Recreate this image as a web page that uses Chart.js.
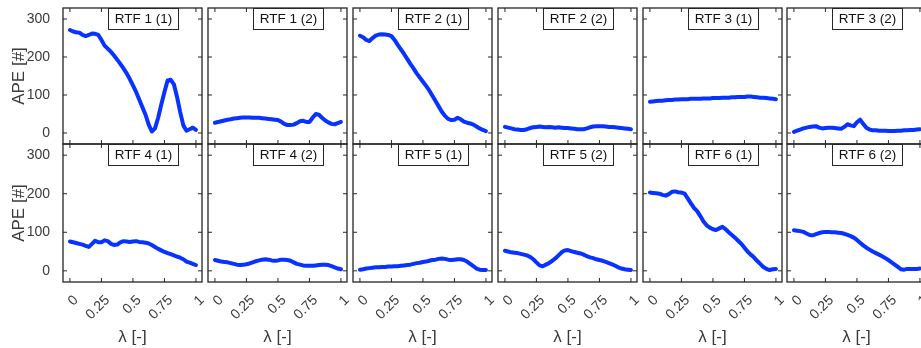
<!DOCTYPE html>
<html>
<head>
<meta charset="utf-8">
<script src="https://cdn.jsdelivr.net/npm/chart.js@4.4.1/dist/chart.umd.min.js"></script>
<style>
  html, body { margin: 0; padding: 0; background: #fff; }
  #wrap { position: relative; width: 921px; height: 348px; overflow: hidden; }
  #wrap canvas { position: absolute; }
</style>
</head>
<body>
<div id="wrap"></div>
<script>
// lambda grid shared by every panel
const lambda = [0, 0.025, 0.05, 0.075, 0.1, 0.125, 0.15, 0.175, 0.2, 0.225,
  0.25, 0.275, 0.3, 0.325, 0.35, 0.375, 0.4, 0.425, 0.45, 0.475,
  0.5, 0.525, 0.55, 0.575, 0.6, 0.625, 0.65, 0.675, 0.7, 0.725,
  0.75, 0.775, 0.8, 0.825, 0.85, 0.875, 0.9, 0.925, 0.95, 0.975, 1];

const panelTitles = ['RTF 1 (1)', 'RTF 1 (2)', 'RTF 2 (1)', 'RTF 2 (2)', 'RTF 3 (1)', 'RTF 3 (2)',
  'RTF 4 (1)', 'RTF 4 (2)', 'RTF 5 (1)', 'RTF 5 (2)', 'RTF 6 (1)', 'RTF 6 (2)'];

const rtf1a = [271, 267, 265, 264, 258, 255, 258, 262, 261, 258, 245, 230, 222, 214, 204, 193, 182, 170, 157, 142,
  125, 108, 88, 68, 48, 22, 4, 12, 40, 75, 108, 138, 140, 128, 95, 55, 20, 6, 10, 14, 8];
const rtf1b = [27, 29, 31, 33, 35, 36, 38, 39, 40, 41, 41, 41, 40, 40, 40, 39, 38, 37, 36, 35,
  34, 30, 24, 21, 21, 22, 26, 31, 32, 29, 29, 40, 50, 48, 40, 33, 28, 24, 23, 26, 29];
const rtf2a = [256, 252, 245, 242, 250, 256, 259, 260, 259, 258, 255, 245, 232, 220, 208, 195, 182, 170, 157, 146,
  135, 124, 112, 98, 84, 70, 56, 45, 37, 34, 35, 40, 36, 30, 27, 25, 22, 17, 12, 8, 5];
const rtf2b = [16, 14, 12, 10, 9, 8, 8, 10, 13, 15, 16, 17, 16, 15, 16, 15, 14, 15, 14, 13,
  13, 12, 11, 10, 10, 10, 12, 15, 17, 18, 18, 18, 17, 16, 16, 15, 14, 13, 12, 11, 10];
const rtf3a = [82, 83, 84, 85, 85, 86, 87, 87, 88, 88, 89, 89, 89, 90, 90, 90, 90, 91, 91, 91,
  92, 92, 92, 93, 93, 93, 94, 94, 95, 95, 95, 96, 96, 95, 94, 93, 93, 92, 91, 90, 89];
const rtf3b = [3, 6, 9, 12, 14, 16, 17, 18, 14, 12, 13, 14, 14, 13, 12, 11, 16, 23, 20, 18,
  28, 35, 24, 14, 9, 7, 7, 6, 6, 6, 5, 5, 5, 6, 6, 7, 7, 8, 8, 9, 10];
const rtf4a = [76, 74, 72, 70, 68, 65, 62, 70, 78, 74, 74, 79, 77, 70, 67, 68, 74, 77, 76, 75,
  76, 77, 75, 74, 73, 71, 67, 62, 57, 53, 49, 46, 43, 40, 37, 34, 30, 24, 21, 18, 15];
const rtf4b = [28, 26, 24, 23, 22, 20, 18, 16, 15, 16, 17, 19, 22, 25, 27, 29, 30, 29, 27, 26,
  27, 29, 29, 28, 26, 22, 18, 16, 14, 13, 13, 13, 14, 15, 16, 16, 15, 12, 9, 6, 4];
const rtf5a = [3, 4, 6, 7, 8, 9, 9, 10, 10, 11, 11, 12, 12, 13, 14, 15, 16, 18, 20, 21,
  23, 24, 26, 28, 29, 31, 32, 31, 29, 28, 29, 30, 30, 28, 24, 18, 12, 6, 3, 2, 2];
const rtf5b = [52, 50, 48, 47, 46, 44, 42, 40, 36, 30, 22, 14, 12, 16, 20, 26, 32, 40, 48, 53,
  54, 51, 49, 47, 45, 42, 38, 35, 33, 30, 28, 26, 23, 20, 17, 13, 9, 6, 4, 3, 2];
const rtf6a = [203, 202, 201, 200, 197, 195, 199, 205, 206, 204, 203, 200, 188, 175, 163, 155, 142, 128, 118, 112,
  108, 106, 110, 114, 108, 100, 93, 86, 78, 70, 60, 50, 42, 35, 26, 18, 10, 5, 2, 4, 5];
const rtf6b = [105, 104, 103, 101, 97, 93, 92, 95, 98, 100, 101, 101, 100, 100, 99, 98, 96, 93, 90, 86,
  80, 73, 66, 60, 55, 50, 46, 42, 38, 33, 28, 22, 16, 10, 4, 3, 5, 5, 5, 5, 6];

const series = [rtf1a, rtf1b, rtf2a, rtf2b, rtf3a, rtf3b, rtf4a, rtf4b, rtf5a, rtf5b, rtf6a, rtf6b];

const xTickValues = [0, 0.25, 0.5, 0.75, 1];
const xTickLabels = ['0', '0.25', '0.5', '0.75', '1'];
const yTickValues = [0, 100, 200, 300];
const yTickLabels = ['0', '100', '200', '300'];

// panel boxes in page pixels
const colLeft = [63, 208, 353, 498, 643, 787];
const rowTop = [8, 144];
const rowHeight = [136, 138];
const boxW = 139;
const pad = 3;
const axisColor = '#262626';
const textColor = '#3a3a3a';
const family = '"Liberation Sans", Arial, Helvetica, sans-serif';

// box, inward ticks and title label
const framePlugin = {
  id: 'frame',
  afterDatasetsDraw(chart, args, opts) {
    const { ctx, chartArea: a, scales: { x, y } } = chart;
    ctx.save();
    ctx.strokeStyle = axisColor;
    ctx.lineWidth = 1.3;
    ctx.strokeRect(a.left, a.top, a.right - a.left, a.bottom - a.top);

    ctx.lineWidth = 1;
    ctx.beginPath();
    xTickValues.forEach(v => {
      const px = x.getPixelForValue(v);
      ctx.moveTo(px, a.bottom); ctx.lineTo(px, a.bottom - 4);
      ctx.moveTo(px, a.top); ctx.lineTo(px, a.top + 4);
    });
    yTickValues.forEach(v => {
      const py = y.getPixelForValue(v);
      ctx.moveTo(a.left, py); ctx.lineTo(a.left + 4, py);
      ctx.moveTo(a.right, py); ctx.lineTo(a.right - 4, py);
    });
    ctx.stroke();

    ctx.font = '13.5px ' + family;
    const tw = ctx.measureText(opts.text).width;
    const bw = Math.round(tw + 12), bh = 21;
    const bx = Math.round(a.left + 80 - bw / 2);
    ctx.fillStyle = '#fff';
    ctx.fillRect(bx, a.top, bw, bh);
    ctx.lineWidth = 1;
    ctx.strokeRect(bx + 0.5, a.top + 0.5, bw, bh);
    ctx.fillStyle = '#111';
    ctx.textAlign = 'center';
    ctx.textBaseline = 'middle';
    ctx.fillText(opts.text, bx + bw / 2 + 0.5, a.top + bh / 2 + 1);
    ctx.restore();
  }
};

const wrap = document.getElementById('wrap');

series.forEach((values, i) => {
  const r = Math.floor(i / 6), c = i % 6;
  const isLeft = c === 0, isBottom = r === 1;
  const yAxisW = isLeft ? colLeft[0] : pad;
  const xAxisH = isBottom ? 348 - (rowTop[1] + rowHeight[1]) : pad;
  const left = isLeft ? 0 : colLeft[c] - pad;
  const top = rowTop[r] - pad;
  const width = colLeft[c] + boxW + pad - left;
  const height = rowHeight[r] + pad + xAxisH;

  const canvas = document.createElement('canvas');
  canvas.width = width;
  canvas.height = height;
  canvas.style.left = left + 'px';
  canvas.style.top = top + 'px';
  canvas.style.width = width + 'px';
  canvas.style.height = height + 'px';
  wrap.appendChild(canvas);

  new Chart(canvas.getContext('2d'), {
    type: 'line',
    data: {
      datasets: [{
        data: lambda.map((l, k) => ({ x: l, y: values[k] })),
        borderColor: '#0832ff',
        borderWidth: 4,
        borderJoinStyle: 'round',
        borderCapStyle: 'round',
        pointRadius: 0,
        tension: 0,
        fill: false
      }]
    },
    options: {
      responsive: false,
      animation: false,
      layout: { padding: { top: pad, right: pad, left: 0, bottom: 0 } },
      plugins: {
        legend: { display: false },
        tooltip: { enabled: false },
        frame: { text: panelTitles[i] }
      },
      scales: {
        x: {
          type: 'linear',
          min: -0.055,
          max: 1.048,
          afterBuildTicks: s => { s.ticks = xTickValues.map(v => ({ value: v })); },
          afterFit: s => { s.height = xAxisH; s.paddingLeft = 0; s.paddingRight = 0; },
          grid: { display: false },
          border: { display: false },
          ticks: {
            display: isBottom,
            autoSkip: false,
            minRotation: 45,
            maxRotation: 45,
            padding: 2,
            labelOffset: 6,
            color: textColor,
            font: { family, size: 14 },
            callback: v => xTickLabels[xTickValues.indexOf(v)]
          },
          title: {
            display: isBottom,
            text: 'λ [-]',
            color: textColor,
            font: { family, size: 17 },
            padding: { top: 0, bottom: 0 }
          }
        },
        y: {
          type: 'linear',
          min: -29,
          max: 329,
          afterBuildTicks: s => { s.ticks = yTickValues.map(v => ({ value: v })); },
          afterFit: s => { s.width = yAxisW; s.paddingTop = 0; s.paddingBottom = 0; },
          grid: { display: false },
          border: { display: false },
          ticks: {
            display: isLeft,
            padding: 5,
            color: textColor,
            font: { family, size: 14 },
            callback: v => yTickLabels[yTickValues.indexOf(v)]
          },
          title: {
            display: isLeft,
            text: 'APE [#]',
            color: textColor,
            font: { family, size: 17 },
            padding: { top: 9, bottom: 0 }
          }
        }
      }
    },
    plugins: [framePlugin]
  });
});
</script>
</body>
</html>
